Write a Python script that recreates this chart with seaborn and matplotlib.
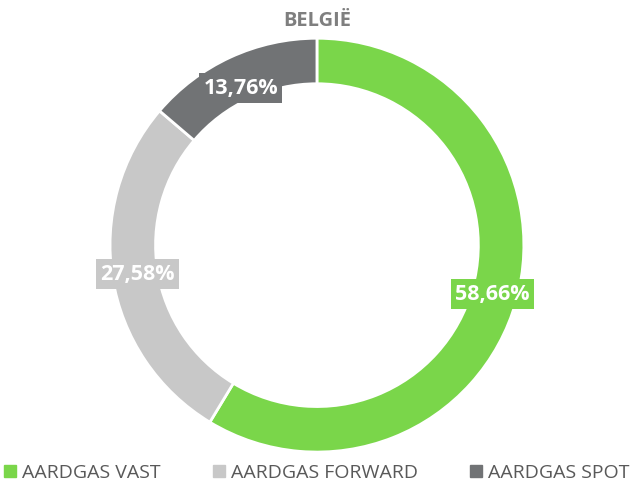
import matplotlib
matplotlib.use("Agg")
import matplotlib.pyplot as plt
import seaborn as sns
from matplotlib.lines import Line2D

categories = ["AARDGAS VAST", "AARDGAS FORWARD", "AARDGAS SPOT"]
shares = [58.66, 27.58, 13.76]
labels = ["58,66%", "27,58%", "13,76%"]
title = "BELGIË"

sns.set_theme(style="white")
plt.rcParams["font.family"] = ["Open Sans", "DejaVu Sans"]
colors = ["#7AD64A", "#C8C8C8", "#717375"]

fig = plt.figure(figsize=(6.32, 4.84), dpi=100)
ax = fig.add_axes([0.174, 0.066, 0.655, 0.855])

wedges, texts = ax.pie(shares, colors=colors, startangle=90, counterclock=False,
                       radius=1.0, labels=labels, labeldistance=0.88,
                       wedgeprops=dict(width=0.22, edgecolor="white", linewidth=2))
for t, c in zip(texts, colors):
    t.set_ha("center")
    t.set_va("center")
    t.set_color("white")
    t.set_fontweight("bold")
    t.set_fontsize(15.5)
    t.set_bbox(dict(boxstyle="square,pad=0.2", facecolor=c, edgecolor="none"))
# spot label sits a bit lower in the original
x, y = texts[2].get_position()
texts[2].set_position((x, y - 0.04))
ax.set_xlim(-1, 1)
ax.set_ylim(-1, 1)
ax.set_aspect("equal")
ax.axis("off")

fig.text(0.502, 0.956, title, ha="center", va="center", fontsize=14.5,
         fontweight="bold", color="#7F7F7F")

handles = [Line2D([], [], marker="s", linestyle="none", markersize=8,
                  markerfacecolor=c, markeredgecolor=c) for c in colors]
fig.legend(handles, categories, loc="lower center", bbox_to_anchor=(0.5, -0.032),
           ncol=3, frameon=False, fontsize=14, labelcolor="#595959",
           handletextpad=0.2, columnspacing=2.6, handlelength=0.8)

fig.savefig("out.png", dpi=100)
